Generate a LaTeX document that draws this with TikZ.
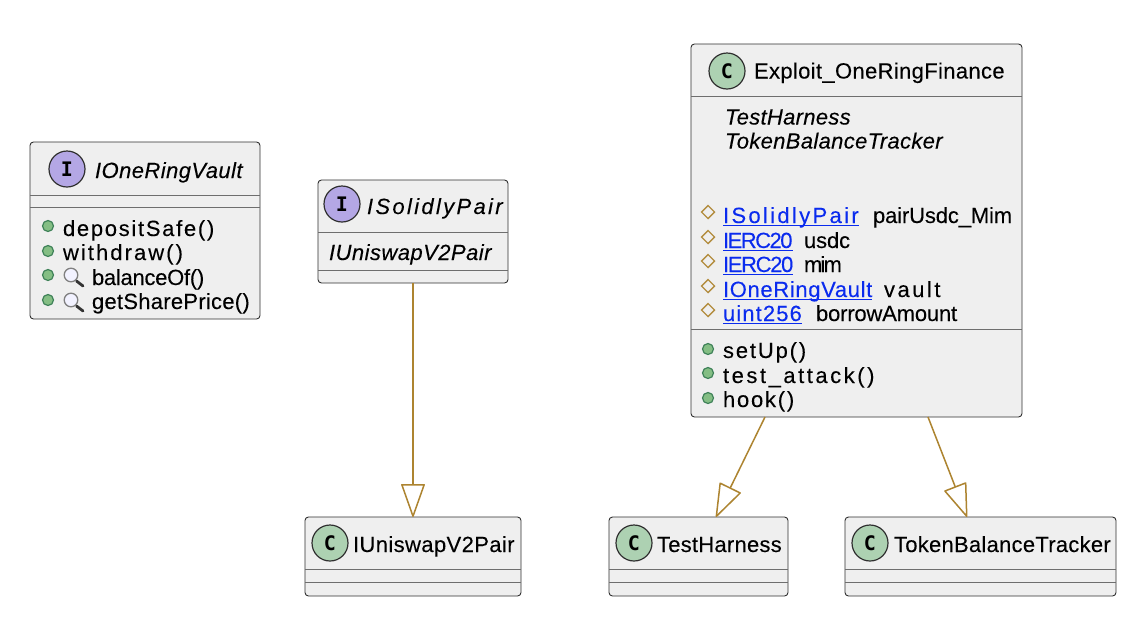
\documentclass[tikz,border=0pt]{standalone}
\usepackage{fontspec}
\setmainfont{Liberation Sans}
\newfontfamily\badgefont{DejaVu Sans Mono}
\usetikzlibrary{arrows.meta,calc}
\definecolor{boxfill}{HTML}{EFEFEF}
\definecolor{boxline}{HTML}{303030}
\definecolor{sepline}{HTML}{6E6E6E}
\definecolor{edgecol}{HTML}{AD8430}
\definecolor{cbadge}{HTML}{ADD1B2}
\definecolor{ibadge}{HTML}{B4A7E5}
\definecolor{dotfill}{HTML}{84BE84}
\definecolor{dotline}{HTML}{3F8259}
\definecolor{diacol}{HTML}{B38D3F}
\definecolor{linkcol}{HTML}{0A2BEE}
\ExplSyntaxOn
\cs_new:Npn \charcount #1 { \tl_count:n {#1} }
\ExplSyntaxOff
\newlength\natw
\tikzset{
  classbox/.style={draw=boxline,fill=boxfill,line width=0.9pt,rounded corners=3.5pt,inner sep=0pt,outer sep=0pt},
  sep/.style={draw=sepline,line width=1pt},
  badge/.style={circle,draw=boxline,line width=1.2pt,minimum size=36pt,inner sep=0pt,font=\badgefont\bfseries\fontsize{20}{20}\selectfont},
  lbl/.style={anchor=base west,inner sep=0pt,outer sep=0pt},
  inherit/.style={draw=edgecol,line width=1.5pt,-{Triangle[length=34.5pt,width=24pt,fill=white,round]}},
  pubdot/.style={circle,draw=dotline,fill=dotfill,line width=1.2pt,minimum size=11pt,inner sep=0pt},
  protdia/.style={draw=diacol,line width=1.4pt,fill=none,line join=miter},
  linkrule/.style={draw=linkcol,line width=1.1pt},
  glass/.style={draw=gray,line width=1.3pt,fill=blue!5},
  handle/.style={draw=black!80,line width=2.8pt,line cap=round},
}
% name, x1, x2, baseline, style, text
\newcommand\fitlbl[6]{\node[lbl] (#1) at (#2,#4) {\fontsize{22}{25}\selectfont #5\settowidth\natw{#6}\pgfmathsetmacro\lsval{(#3-#2-\natw/1pt)/\charcount{#6}/22*100}\addfontfeature{LetterSpace=\lsval,FakeBold=0.12}#6};}
\newcommand\linklbl[5]{\fitlbl{#1}{#2}{#3}{#4}{\color{linkcol}}{#5}\draw[linkrule] ([yshift=-2.5pt]#1.base west) -- ([yshift=-2.5pt]#1.base east);}
\newcommand\cbox[5]{\node[classbox,minimum width=#4pt-#2pt,minimum height=#5pt-#3pt] (#1) at ({(#2+#4)/2},{(#3+#5)/2}) {};}
\newcommand\sepat[2]{\draw[sep] ([yshift=-#2pt]#1.north west) -- ([yshift=-#2pt]#1.north east);}
\newcommand\diaat[2]{\node[inner sep=0pt,minimum size=0pt] (#1) at #2 {};\draw[protdia] ([xshift=-6.5pt]#1.center) -- ([yshift=6.5pt]#1.center) -- ([xshift=6.5pt]#1.center) -- ([yshift=-6.5pt]#1.center) -- cycle;}
\newcommand\lens[2]{\node[inner sep=0pt,minimum size=0pt] (#1) at #2 {};\draw[handle] ([shift={(5.5pt,-6pt)}]#1.center) -- ([shift={(12pt,-11pt)}]#1.center);\draw[glass] (#1.center) circle[radius=6.8pt];}
\begin{document}
\begin{tikzpicture}[x=1pt,y=-1pt]
\useasboundingbox[fill=white] (0,0) rectangle (1135,630);

% IOneRingVault
\cbox{vault}{30}{142}{260}{319}
\sepat{vault}{53}\sepat{vault}{65}
\node[badge,fill=ibadge] (vaultb) at (67,169) {I};
\fitlbl{vaultt}{95}{243}{178}{\itshape}{IOneRingVault}
\node[pubdot] (vd1) at (48,226) {};
\node[pubdot] (vd2) at (48,251) {};
\node[pubdot] (vd3) at (48,275) {};
\node[pubdot] (vd4) at (48,300) {};
\fitlbl{vm1}{63}{216}{236}{}{depositSafe()}
\fitlbl{vm2}{63}{185}{260}{}{withdraw()}
\lens{vl1}{(71,275)}
\lens{vl2}{(71,300)}
\fitlbl{vm3}{92}{204}{285}{}{balanceOf()}
\fitlbl{vm4}{92}{250}{309}{}{getSharePrice()}

% ISolidlyPair
\cbox{pair}{318}{180}{508}{283}
\sepat{pair}{52}\sepat{pair}{90}
\node[badge,fill=ibadge] (pairb) at (342,204) {I};
\fitlbl{pairt}{367}{505}{214}{\itshape}{ISolidlyPair}
\fitlbl{pairs}{329}{492}{260}{\itshape}{IUniswapV2Pair}

% Exploit_OneRingFinance
\cbox{ex}{691}{44}{1022}{417}
\sepat{ex}{52}\sepat{ex}{285}
\node[badge,fill=cbadge] (exb) at (727,71) {C};
\fitlbl{ext}{754}{1005}{78.5}{}{Exploit\_OneRingFinance}
\fitlbl{exs1}{725}{851}{124.5}{\itshape}{TestHarness}
\fitlbl{exs2}{725}{943}{148.5}{\itshape}{TokenBalanceTracker}
\diaat{exd1}{(708,212)}
\diaat{exd2}{(708,237)}
\diaat{exd3}{(708,261)}
\diaat{exd4}{(708,286)}
\diaat{exd5}{(708,310)}
\linklbl{exl1}{723}{861}{223}{ISolidlyPair}
\fitlbl{exf1}{873}{1012}{223}{}{pairUsdc\_Mim}
\linklbl{exl2}{723}{791}{248}{IERC20}
\fitlbl{exf2}{804}{850}{248}{}{usdc}
\linklbl{exl3}{723}{792}{272}{IERC20}
\fitlbl{exf3}{804}{840}{272}{}{mim}
\linklbl{exl4}{723}{873}{297}{IOneRingVault}
\fitlbl{exf4}{884}{943}{297}{}{vault}
\linklbl{exl5}{723}{803}{321}{uint256}
\fitlbl{exf5}{816}{957}{321}{}{borrowAmount}
\node[pubdot] (exm1) at (708,349) {};
\node[pubdot] (exm2) at (708,373) {};
\node[pubdot] (exm3) at (708,398) {};
\fitlbl{exn1}{723}{808}{358}{}{setUp()}
\fitlbl{exn2}{723}{877}{383}{}{test\_attack()}
\fitlbl{exn3}{723}{796}{407}{}{hook()}

% IUniswapV2Pair
\cbox{uni}{305}{517}{521}{596}
\sepat{uni}{52}\sepat{uni}{65}
\node[badge,fill=cbadge] (unib) at (330,543) {C};
\fitlbl{unit}{353}{515}{552}{}{IUniswapV2Pair}

% TestHarness
\cbox{th}{609}{517}{788}{596}
\sepat{th}{52}\sepat{th}{65}
\node[badge,fill=cbadge] (thb) at (634,543) {C};
\fitlbl{tht}{657}{782}{552}{}{TestHarness}

% TokenBalanceTracker
\cbox{tb}{845}{517}{1116}{596}
\sepat{tb}{52}\sepat{tb}{65}
\node[badge,fill=cbadge] (tbb) at (870,543) {C};
\fitlbl{tbt}{894}{1111}{552}{}{TokenBalanceTracker}

% inheritance edges
\draw[inherit] (pair.south) -- (uni.north);
\draw[inherit] ([xshift=74pt]ex.south west) -- ([xshift=107pt]th.north west);
\draw[inherit] ([xshift=237pt]ex.south west) -- ([xshift=122pt]tb.north west);
\end{tikzpicture}
\end{document}
